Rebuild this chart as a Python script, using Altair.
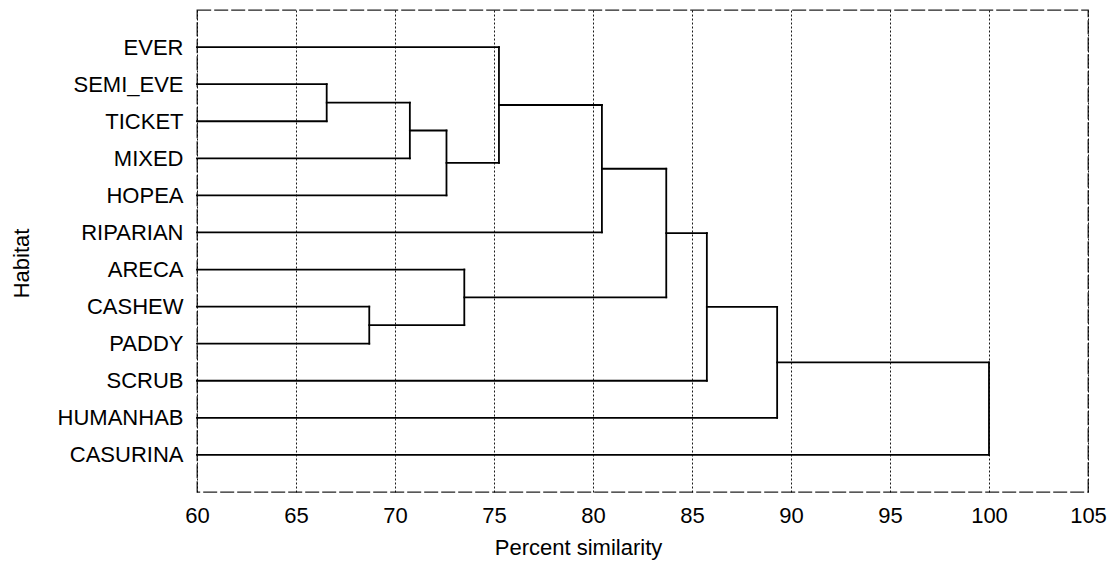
import altair as alt
import pandas as pd

# Leaves (top to bottom)
leaves = ["EVER", "SEMI_EVE", "TICKET", "MIXED", "HOPEA", "RIPARIAN",
          "ARECA", "CASHEW", "PADDY", "SCRUB", "HUMANHAB", "CASURINA"]

# Merges: cluster ids 0..11 are leaves, new clusters get ids 12, 13, ...
merge_a = [1, 12, 13, 0, 15, 7, 6, 16, 19, 20, 21]
merge_b = [2, 3, 4, 14, 5, 8, 17, 18, 9, 10, 11]
merge_height = [66.55, 70.75, 72.6, 75.25, 80.45, 68.7, 73.5, 83.7, 85.75, 89.3, 100.0]

x_ticks = [60, 65, 70, 75, 80, 85, 90, 95, 100, 105]
x_min, x_max = 60, 105

# Build dendrogram segments
pos = {i: i + 1 for i in range(len(leaves))}
hgt = {i: x_min for i in range(len(leaves))}
rows = []
for k, (a, b, h) in enumerate(zip(merge_a, merge_b, merge_height)):
    cid = len(leaves) + k
    rows.append({"x": hgt[a], "x2": h, "y": pos[a], "y2": pos[a]})
    rows.append({"x": hgt[b], "x2": h, "y": pos[b], "y2": pos[b]})
    rows.append({"x": h, "x2": h, "y": pos[a], "y2": pos[b]})
    pos[cid] = (pos[a] + pos[b]) / 2
    hgt[cid] = h
seg = pd.DataFrame(rows)

label_arr = "[" + ",".join(["''"] + ["'" + s + "'" for s in leaves] + ["''"]) + "]"

FONT = "Liberation Sans"

chart = alt.Chart(seg).mark_rule(
    color="black", strokeWidth=1.8, strokeCap="square"
).encode(
    x=alt.X("x:Q",
            scale=alt.Scale(domain=[x_min, x_max], nice=False, zero=False),
            axis=alt.Axis(values=x_ticks, title="Percent similarity",
                          grid=True, gridDash=[2, 2], gridColor="black",
                          gridOpacity=0.9, gridWidth=1,
                          ticks=False, tickSize=0, domain=False,
                          labelFlush=False, labelPadding=13,
                          labelFontSize=22, labelFont=FONT, labelColor="black",
                          titleFontSize=22, titleFont=FONT, titleFontWeight="normal",
                          titleColor="black", titleX=381, titleY=62,
                          titleAlign="center", titleBaseline="alphabetic")),
    x2="x2:Q",
    y=alt.Y("y:Q",
            scale=alt.Scale(domain=[0, len(leaves) + 1], nice=False, zero=False, reverse=True),
            axis=alt.Axis(values=list(range(1, len(leaves) + 1)),
                          labelExpr=label_arr + "[datum.value]",
                          title="Habitat", grid=False,
                          ticks=False, tickSize=0, domain=False,
                          labelPadding=14, labelFontSize=22, labelFont=FONT,
                          labelColor="black", labelBaseline="middle",
                          titleFontSize=22, titleFont=FONT, titleFontWeight="normal",
                          titleColor="black", titleX=-169, titleY=253,
                          titleAngle=270, titleAlign="center",
                          titleBaseline="alphabetic")),
    y2="y2:Q",
).properties(
    width=891, height=482,
    background="white",
    autosize=alt.AutoSizeParams(type="none"),
    padding={"left": 197, "top": 10, "right": 30, "bottom": 79},
).configure_view(
    stroke="#222", strokeWidth=1.3, strokeDash=[14, 3]
)

chart.save("out.html", embed_options={"renderer": "svg", "actions": False})
